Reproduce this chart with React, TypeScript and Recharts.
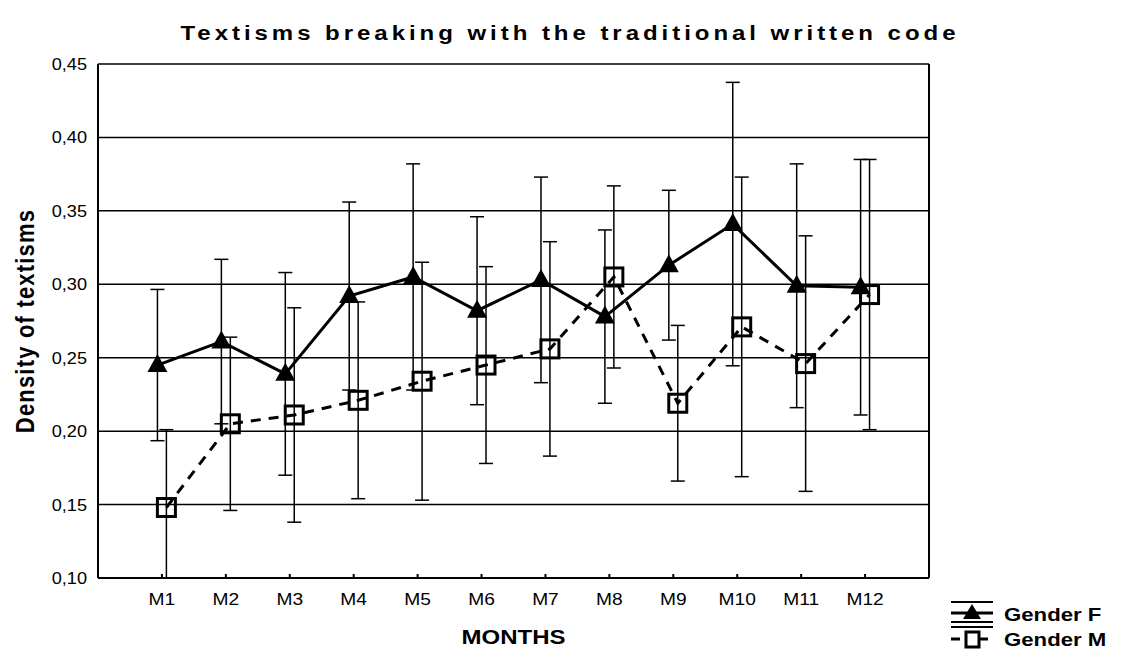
import React from "react";
import {
  ComposedChart,
  Line,
  XAxis,
  YAxis,
  CartesianGrid,
  ErrorBar,
  Label,
  ReferenceLine,
} from "recharts";

const MONTHS = ["M1", "M2", "M3", "M4", "M5", "M6", "M7", "M8", "M9", "M10", "M11", "M12"];
const FEMALE = [0.245, 0.261, 0.239, 0.292, 0.305, 0.282, 0.303, 0.278, 0.313, 0.341, 0.299, 0.298];
const FEMALE_ERR = [0.0515, 0.056, 0.069, 0.064, 0.077, 0.064, 0.07, 0.059, 0.051, 0.0965, 0.083, 0.087];
const MALE = [0.148, 0.205, 0.211, 0.221, 0.234, 0.245, 0.256, 0.305, 0.219, 0.271, 0.246, 0.293];
// M1 lower whisker is cut off by the axis in the original
const MALE_ERR_LOW = [0.048, 0.059, 0.073, 0.067, 0.081, 0.067, 0.073, 0.062, 0.053, 0.102, 0.087, 0.092];
const MALE_ERR_HIGH = [0.053, 0.059, 0.073, 0.067, 0.081, 0.067, 0.073, 0.062, 0.053, 0.102, 0.087, 0.092];
const Y_TICKS = [0.1, 0.15, 0.2, 0.25, 0.3, 0.35, 0.4, 0.45];

// statistica nudges the two groups apart a little
const SHIFT = 0.07;
const MONTH_POS = MONTHS.map((_, i) => i + 1);

const femaleRows = MONTH_POS.map((m, i) => ({ x: m - SHIFT, y: FEMALE[i], err: FEMALE_ERR[i] }));
const maleRows = MONTH_POS.map((m, i) => ({
  x: m + SHIFT,
  y: MALE[i],
  err: [MALE_ERR_LOW[i], MALE_ERR_HIGH[i]],
}));

const FONT = "'Liberation Sans', Arial, sans-serif";
const STRETCH = 1.2; // original export is a bit squashed wide

const Triangle = (props: any) => {
  const { cx, cy } = props;
  if (cx == null || cy == null) return null;
  return <polygon points={`${cx},${cy - 11} ${cx - 10},${cy + 7} ${cx + 10},${cy + 7}`} fill="#000" />;
};

const Square = (props: any) => {
  const { cx, cy } = props;
  if (cx == null || cy == null) return null;
  return <rect x={cx - 9} y={cy - 9} width={18} height={18} fill="none" stroke="#000" strokeWidth={3} />;
};

const XTick = (props: any) => {
  const { x, y, payload } = props;
  return (
    <text
      transform={`translate(${x},${y}) scale(${STRETCH},1)`}
      textAnchor="middle"
      dy="0.71em"
      fontSize={16}
      fill="#000"
    >
      {MONTHS[payload.value - 1]}
    </text>
  );
};

const YTick = (props: any) => {
  const { x, y, payload } = props;
  return (
    <text
      transform={`translate(${x},${y}) scale(1.1,1)`}
      textAnchor="end"
      dy="0.36em"
      fontSize={16.5}
      fill="#000"
    >
      {payload.value.toFixed(2).replace(".", ",")}
    </text>
  );
};

const YTitle = (props: any) => {
  const vb = props.viewBox;
  const cy = vb.y + vb.height / 2;
  return (
    <text
      transform={`translate(25,${cy}) rotate(-90) scale(1,1.15)`}
      textAnchor="middle"
      dy="0.36em"
      fontSize={22}
      fontWeight="bold"
      letterSpacing={1.2}
      fill="#000"
    >
      Density of textisms
    </text>
  );
};

const XTitle = (props: any) => {
  const vb = props.viewBox;
  const cx = vb.x + vb.width / 2;
  return (
    <text
      transform={`translate(${cx},637) scale(${STRETCH},1)`}
      textAnchor="middle"
      dy="0.36em"
      fontSize={20}
      fontWeight="bold"
      fill="#000"
    >
      MONTHS
    </text>
  );
};

const LegendBox = () => (
  <svg width={200} height={56} style={{ position: "absolute", left: 940, top: 598, fontFamily: FONT, overflow: "visible" }}>
    <line x1={11} x2={53} y1={4} y2={4} stroke="#000" strokeWidth={2} />
    <polygon points="32,6 23,21 41,21" fill="#000" />
    <line x1={11} x2={53} y1={15} y2={15} stroke="#000" strokeWidth={3} />
    <line x1={11} x2={53} y1={24} y2={24} stroke="#000" strokeWidth={2} />
    <text transform={`translate(64,16) scale(${STRETCH},1)`} dy="0.36em" fontSize={18.5} fontWeight="bold">
      Gender F
    </text>
    <line x1={11} x2={53} y1={29} y2={29} stroke="#000" strokeWidth={2} />
    <line x1={11} x2={53} y1={41} y2={41} stroke="#000" strokeWidth={3} strokeDasharray="9 5" />
    <rect x={26} y={34} width={13} height={15} fill="#fff" stroke="#000" strokeWidth={3} />
    <text transform={`translate(64,41) scale(${STRETCH},1)`} dy="0.36em" fontSize={18.5} fontWeight="bold">
      Gender M
    </text>
  </svg>
);

export default function App() {
  return (
    <div style={{ position: "relative", width: 1132, height: 658, margin: -8, background: "#fff", fontFamily: FONT }}>
      <div
        style={{
          position: "absolute",
          top: 21,
          left: 4,
          width: 1132,
          textAlign: "center",
          fontWeight: "bold",
          fontSize: 20,
          lineHeight: "24px",
          letterSpacing: 3.3,
          transform: `scaleX(${STRETCH})`,
        }}
      >
        Textisms breaking with the traditional written code
      </div>
      <ComposedChart
        width={1132}
        height={658}
        margin={{ top: 64, right: 203, bottom: 0, left: 38 }}
        style={{ fontFamily: FONT }}
      >
        <CartesianGrid vertical={false} stroke="#000" strokeWidth={1.5} />
        <XAxis
          type="number"
          dataKey="x"
          domain={[0, 13]}
          ticks={MONTH_POS}
          allowDataOverflow
          stroke="#000"
          strokeWidth={2}
          tickSize={-4}
          tickMargin={20}
          tick={<XTick />}
          height={80}
        >
          <Label content={<XTitle />} />
        </XAxis>
        <XAxis
          xAxisId="top"
          orientation="top"
          type="number"
          domain={[0, 13]}
          ticks={MONTH_POS}
          tickFormatter={() => ""}
          stroke="#000"
          strokeWidth={2}
          tickSize={-4}
          height={0}
        />
        <YAxis
          type="number"
          domain={[0.1, 0.45]}
          ticks={Y_TICKS}
          allowDataOverflow
          stroke="#000"
          strokeWidth={2}
          tickLine={false}
          tickMargin={5}
          tick={<YTick />}
          width={60}
        >
          <Label content={<YTitle />} />
        </YAxis>
        <YAxis
          yAxisId="right"
          orientation="right"
          type="number"
          domain={[0.1, 0.45]}
          stroke="#000"
          strokeWidth={2}
          tick={false}
          tickLine={false}
          width={0}
        />
        {/* right edge of the frame */}
        <ReferenceLine x={13} stroke="#000" strokeWidth={2} />
        <Line
          data={femaleRows}
          dataKey="y"
          name="Gender F"
          stroke="#000"
          strokeWidth={3}
          dot={<Triangle />}
          activeDot={false}
          isAnimationActive={false}
        >
          <ErrorBar dataKey="err" direction="y" width={7} stroke="#000" strokeWidth={1.5} isAnimationActive={false} />
        </Line>
        <Line
          data={maleRows}
          dataKey="y"
          name="Gender M"
          stroke="#000"
          strokeWidth={3}
          strokeDasharray="10 8"
          dot={<Square />}
          activeDot={false}
          isAnimationActive={false}
        >
          <ErrorBar dataKey="err" direction="y" width={7} stroke="#000" strokeWidth={1.5} isAnimationActive={false} />
        </Line>
      </ComposedChart>
      <LegendBox />
    </div>
  );
}
